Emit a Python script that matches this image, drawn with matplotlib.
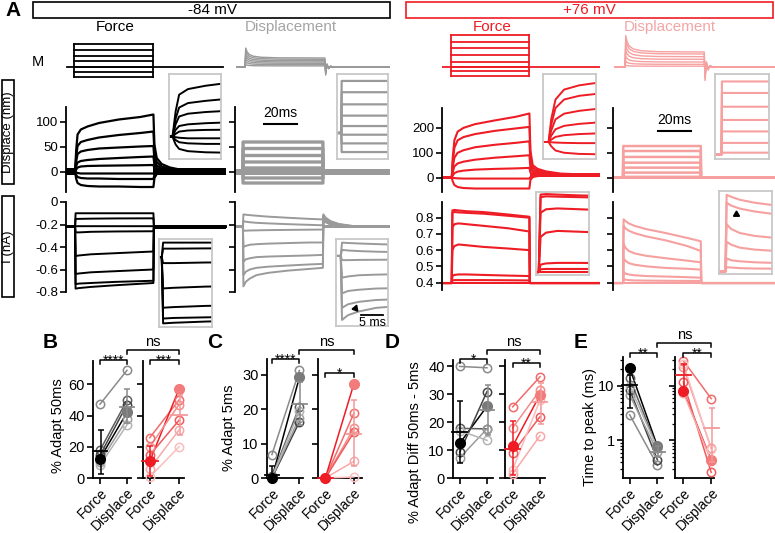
import numpy as np
import matplotlib
matplotlib.use('Agg')
import matplotlib.pyplot as plt
from matplotlib.lines import Line2D
from matplotlib.patches import Rectangle

plt.rcParams['font.family'] = ['Liberation Sans', 'DejaVu Sans']
plt.rcParams['axes.linewidth'] = 1.2

# ====================== DATA ======================
# ---- A: mechanical stimulus (M), arbitrary units ----
stim_force_levels_84 = [23, 17, 11, 6, 0, -5, -10]
stim_force_levels_76 = [32, 25, 19, 12, 5, 0, -4, -9]
stim_disp_levels_84 = [9, 7.7, 6.3, 5, 3.7, 2.4, 1.1]
stim_disp_levels_76 = [15, 13, 10.3, 7.7, 5, 2.7, 0.8]
stim_disp_on_t = [0, 0.4, 1.2, 2.5, 5, 10, 20]
stim_disp_on_shape = [0, 2.1, 1.7, 1.4, 1.2, 1.08, 1.02]
stim_disp_off_t = [0, 0.5, 1.3, 2.3, 3.5, 5.5, 9]
stim_disp_off_shape = [1.0, -0.9, 0.35, -0.2, 0.1, -0.03, 0]
# (start, on, off, end) in ms
stim_timing_force_84 = [0.4, 4.85, 52.7, 95]
stim_timing_disp_84 = [1.2, 6.1, 54.5, 94]
stim_timing_force_76 = [-0.6, 5.5, 52.9, 95.8]
stim_timing_disp_76 = [1.2, 7.3, 55.2, 98]

# ---- A: displacement traces (nm), force clamp, -84 mV ----
bd_t = [0, 5.5, 6.2, 7, 9, 13, 20, 32, 45, 53, 53.6, 55, 58, 63, 72, 97]
bd_traces = [
    [0, 0, 45, 75, 85, 91, 98, 105, 110, 115, 55, 28, 16, 9, 3, 0],
    [0, 0, 32, 52, 60, 64, 69, 74, 78, 81, 40, 20, 11, 6, 2, 0],
    [0, 0, 22, 36, 41, 44, 47, 49, 51, 52, 25, 13, 7, 4, 1, 0],
    [0, 0, 12, 19, 22, 24, 26, 28, 30, 31, 15, 8, 4, 2, 0, 0],
    [0, 0, 5, 9, 11, 12, 12.5, 13, 13.5, 14, 7, 4, 2, 1, 0, 0],
    [0, 0, -1, -2, -3, -3, -3, -3, -3, -3, -1, 0, 0, 0, 0, 0],
    [0, 0, -6, -10, -12, -13, -13, -14, -14, -14, -6, -2, -1, 0, 0, 0],
    [0, 0, -14, -22, -26, -28, -29, -29, -30, -30, -12, -4, -1, 0, 0, 0],
]
bd_noise = 7
# ---- displacement clamp, -84 mV ----
gd_t = [0, 4.8, 4.9, 53.3, 53.4, 94]
gd_levels = [60, 47, 33, 20, 8, -2, -12, -22]
gd_noise = 6
# ---- currents (nA), -84 mV ----
bc_t = [0, 5.5, 5.8, 8, 15, 30, 53, 53.3, 97]
bc_traces = [
    [-0.22, -0.22, -0.10, -0.10, -0.10, -0.10, -0.10, -0.22, -0.22],
    [-0.22, -0.22, -0.15, -0.15, -0.148, -0.146, -0.145, -0.22, -0.22],
    [-0.22, -0.22, -0.27, -0.27, -0.265, -0.262, -0.26, -0.22, -0.22],
    [-0.22, -0.22, -0.48, -0.475, -0.465, -0.455, -0.44, -0.22, -0.22],
    [-0.22, -0.22, -0.64, -0.635, -0.625, -0.615, -0.60, -0.22, -0.22],
    [-0.22, -0.22, -0.73, -0.725, -0.72, -0.71, -0.70, -0.22, -0.22],
    [-0.22, -0.22, -0.77, -0.765, -0.755, -0.74, -0.72, -0.22, -0.22],
    [-0.22, -0.22, -0.215, -0.215, -0.215, -0.215, -0.215, -0.22, -0.22],
]
bc_noise = 0.02
gc_t = [0, 4.8, 5.1, 6.5, 9, 13, 20, 32, 45, 53.3, 53.6, 55, 58, 63, 72, 94]
gc_traces = [
    [-0.22, -0.22, -0.11, -0.113, -0.117, -0.122, -0.13, -0.14, -0.15, -0.155, -0.11, -0.14, -0.17, -0.195, -0.215, -0.22],
    [-0.22, -0.22, -0.17, -0.175, -0.18, -0.185, -0.19, -0.197, -0.203, -0.207, -0.12, -0.15, -0.18, -0.2, -0.215, -0.22],
    [-0.22, -0.22, -0.255, -0.255, -0.253, -0.252, -0.25, -0.248, -0.246, -0.245, -0.13, -0.16, -0.185, -0.205, -0.218, -0.22],
    [-0.22, -0.22, -0.40, -0.39, -0.38, -0.375, -0.37, -0.365, -0.36, -0.36, -0.14, -0.165, -0.19, -0.207, -0.218, -0.22],
    [-0.22, -0.22, -0.53, -0.51, -0.50, -0.49, -0.485, -0.48, -0.475, -0.47, -0.15, -0.17, -0.195, -0.21, -0.219, -0.22],
    [-0.22, -0.22, -0.65, -0.62, -0.60, -0.585, -0.575, -0.565, -0.555, -0.55, -0.16, -0.175, -0.2, -0.212, -0.219, -0.22],
    [-0.22, -0.22, -0.75, -0.71, -0.68, -0.65, -0.63, -0.61, -0.595, -0.585, -0.17, -0.18, -0.2, -0.213, -0.22, -0.22],
]
gc_noise = 0.012
# ---- +76 mV displacement (nm) ----
rd_t = [0, 5.9, 6.5, 7.5, 9.5, 13, 20, 32, 45, 53, 53.6, 55, 58, 63, 72, 96]
rd_traces = [
    [0, 0, 80, 150, 185, 200, 215, 230, 245, 258, 110, 50, 35, 25, 16, 10],
    [0, 0, 60, 120, 150, 163, 175, 188, 198, 204, 85, 40, 28, 20, 14, 10],
    [0, 0, 40, 80, 100, 110, 122, 132, 140, 146, 60, 30, 22, 16, 12, 10],
    [0, 0, 22, 45, 57, 64, 72, 80, 86, 90, 40, 22, 17, 13, 11, 10],
    [0, 0, 8, 18, 24, 28, 32, 35, 37, 39, 20, 14, 12, 11, 10, 10],
    [0, 0, -1, -2, -3, -4, -4, -4, -4, -4, 2, 6, 8, 9, 10, 10],
    [0, 0, -15, -30, -38, -42, -44, -44, -44, -44, -10, 2, 6, 8, 9, 10],
]
rd_noise = 8
pd_t = [0, 6.1, 6.2, 53.1, 53.2, 98]
pd_levels = [127, 107, 83, 60, 40, 20, 3]
pd_noise = 5
# ---- +76 mV currents (nA) ----
rc_t = [0, 5.9, 6.3, 7.5, 10, 15, 25, 40, 53, 53.3, 96]
rc_traces = [
    [0.397, 0.397, 0.845, 0.848, 0.845, 0.84, 0.835, 0.82, 0.806, 0.397, 0.397],
    [0.397, 0.397, 0.83, 0.835, 0.833, 0.83, 0.825, 0.812, 0.80, 0.397, 0.397],
    [0.397, 0.397, 0.74, 0.76, 0.765, 0.76, 0.75, 0.735, 0.715, 0.397, 0.397],
    [0.397, 0.397, 0.60, 0.625, 0.635, 0.63, 0.62, 0.61, 0.60, 0.397, 0.397],
    [0.397, 0.397, 0.44, 0.447, 0.45, 0.45, 0.447, 0.443, 0.44, 0.397, 0.397],
    [0.397, 0.397, 0.413, 0.415, 0.415, 0.415, 0.415, 0.414, 0.413, 0.397, 0.397],
]
pc_t = [0, 6.1, 6.4, 7.5, 9.5, 13, 20, 32, 45, 53.1, 53.4, 98]
pc_traces = [
    [0.397, 0.397, 0.79, 0.78, 0.765, 0.75, 0.73, 0.705, 0.675, 0.655, 0.397, 0.397],
    [0.397, 0.397, 0.75, 0.735, 0.72, 0.705, 0.685, 0.66, 0.625, 0.595, 0.397, 0.397],
    [0.397, 0.397, 0.64, 0.615, 0.595, 0.58, 0.565, 0.55, 0.535, 0.525, 0.397, 0.397],
    [0.397, 0.397, 0.55, 0.535, 0.52, 0.51, 0.50, 0.49, 0.485, 0.48, 0.397, 0.397],
    [0.397, 0.397, 0.465, 0.455, 0.45, 0.445, 0.44, 0.437, 0.433, 0.43, 0.397, 0.397],
    [0.397, 0.397, 0.42, 0.418, 0.415, 0.413, 0.412, 0.411, 0.41, 0.41, 0.397, 0.397],
]

# ---- B-E: paired data (Force, Displace) ----
groups = ['Force', 'Displace']
B_force_84 = [47.3, 12.5, 17.8, 14.6, 10.3, 8.2]
B_disp_84 = [69, 42, 49.7, 47, 37.6, 34]
B_force_76 = [25.8, 10.7, 20, 14.6, 6, 0.6]
B_disp_76 = [50, 57, 47, 37, 30.8, 20]
B_stats_84 = dict(mean=[17.0, 45.8], lo=[2.8, 35.0], hi=[30.8, 57.0])
B_stats_76 = dict(mean=[10.6, 40.5], lo=[1.0, 27.5], hi=[20.4, 53.0])

C_force_84 = [6.8, 0.0, 0.5, 0.0, 0.3, 0.2]
C_disp_84 = [31.2, 29.2, 20.7, 16.3, 17.5, 19.5]
C_force_76 = [0, 0, 0, 0, 0, 0]
C_disp_76 = [18.7, 27.2, 14.4, 13.2, 4.8, 0.3]
C_stats_84 = dict(mean=[0.8, 21.5], lo=[0.0, 15.5], hi=[3.6, 27.8])
C_stats_76 = dict(mean=[0.0, 12.9], lo=[0.0, 3.5], hi=[0.3, 22.7])

D_force_84 = [40, 12.4, 17.8, 9.2, 7.2, 17]
D_disp_84 = [39.5, 25.7, 17.6, 31, 17.6, 13.5]
D_force_76 = [25.5, 11.4, 18, 9, 1.5, 3]
D_disp_76 = [36.3, 29.9, 31.5, 22, 15.2, 28]
D_stats_84 = dict(mean=[16.5, 24.3], lo=[5.5, 15.5], hi=[27.5, 33.2])
D_stats_76 = dict(mean=[10.5, 27.2], lo=[1.0, 19.5], hi=[20.5, 34.0])

E_force_84 = [2.95, 21, 13.8, 8.45, 6.8, 10]
E_disp_84 = [0.35, 0.78, 0.72, 0.44, 0.62, 0.72]
E_force_76 = [28.7, 8, 22, 11.6, 7.5, 25]
E_disp_76 = [5.8, 0.44, 0.72, 0.26, 0.42, 0.7]
E_stats_84 = dict(mean=[10.2, 0.62], lo=[3.9, 0.5], hi=[15.5, 0.78])
E_stats_76 = dict(mean=[15.5, 1.7], lo=[7.0, 0.4], hi=[25.0, 4.0])

# ====================== STYLE ======================
BLACK = '#000000'
GRAY = '#9a9a9a'
RED = '#ee1c24'
PINK = '#f6a0a0'
INSET_EDGE = '#c8c8c8'
cols_84 = ['#8a8a8a', '#000000', '#5e5e5e', '#444444', '#9c9c9c', '#b4b4b4']
fill_84 = ['#000000', '#7a7a7a']
mcol_84 = ['#000000', '#8a8a8a']
cols_76 = ['#f36b6b', RED, '#f58c8c', '#f15a5a', '#f8a8a8', '#fbbdbd']
fill_76 = [RED, '#f27b7b']
mcol_76 = [RED, '#f29a9a']

W, H = 775, 533
fig = plt.figure(figsize=(W / 100, H / 100), dpi=100)


def pax(x0, y0, x1, y1):
    return fig.add_axes([x0 / W, 1 - y1 / H, (x1 - x0) / W, (y1 - y0) / H])


def ftext(x, y, s, **kw):
    return fig.text(x / W, 1 - y / H, s, **kw)


def frect(x0, y0, x1, y1, color, lw=1.2):
    fig.add_artist(Rectangle((x0 / W, 1 - y1 / H), (x1 - x0) / W, (y1 - y0) / H,
                             transform=fig.transFigure, fill=False, ec=color, lw=lw))


def style_trace(ax, xlim, ylim, yticks, labels):
    ax.set_xlim(*xlim)
    ax.set_ylim(*ylim)
    for s in ['top', 'right', 'bottom']:
        ax.spines[s].set_visible(False)
    ax.spines['left'].set_linewidth(1.3)
    ax.set_xticks([])
    ax.set_yticks(yticks)
    ax.set_yticklabels(labels if labels is not None else [])
    ax.tick_params(axis='y', direction='out', length=4, width=1.2, labelsize=9.5, pad=1.5)
    ax.patch.set_alpha(0)


def inset(box, xlim, ylim):
    ax = pax(*box)
    ax.set_xlim(*xlim)
    ax.set_ylim(*ylim)
    ax.set_xticks([])
    ax.set_yticks([])
    for s in ax.spines.values():
        s.set_color(INSET_EDGE)
        s.set_linewidth(1.3)
    return ax


# ====================== TOP HEADERS ======================
ftext(13, 11, 'A', fontsize=15, fontweight='bold', ha='center', va='center')
frect(33, 2, 390, 18, BLACK)
frect(406, 2, 773, 18, RED)
ftext(212, 10.5, '-84 mV', fontsize=11, ha='center', va='center')
ftext(589, 10.5, '+76 mV', fontsize=11, ha='center', va='center', color=RED)
ftext(115, 27, 'Force', fontsize=11, ha='center', va='center')
ftext(291, 27, 'Displacement', fontsize=11, ha='center', va='center', color='#a4a4a4')
ftext(492, 27, 'Force', fontsize=11, ha='center', va='center', color=RED)
ftext(670, 27, 'Displacement', fontsize=11, ha='center', va='center', color='#f4a5a5')
ftext(38, 62, 'M', fontsize=10.5, ha='center', va='center')

# ====================== STIMULI ======================
def force_stim(ax, levels, timing, color, lw):
    st, on, off, en = timing
    ax.plot([st, en], [0, 0], color=color, lw=lw)
    for L in levels:
        ax.plot([on, off], [L, L], color=color, lw=lw)
    for tt in (on, off):
        ax.plot([tt, tt], [min(levels), max(levels)], color=color, lw=lw)


def disp_stim(ax, levels, timing, color, lw):
    st, on, off, en = timing
    t = np.concatenate([[st], on + np.array(stim_disp_on_t), off + np.array(stim_disp_off_t), [en]])
    for L in levels:
        v = np.concatenate([[0], L * np.array(stim_disp_on_shape), L * np.array(stim_disp_off_shape), [0]])
        ax.plot(t, v, color=color, lw=lw)


for box, xl, kind, levels, timing, color, lw in [
        ((66, 33, 226, 87), 97, 'f', stim_force_levels_84, stim_timing_force_84, BLACK, 1.3),
        ((235, 33, 390, 87), 94, 'd', stim_disp_levels_84, stim_timing_disp_84, GRAY, 1.0),
        ((442, 33, 600, 87), 95.8, 'f', stim_force_levels_76, stim_timing_force_76, RED, 1.3),
        ((613, 33, 775, 87), 98, 'd', stim_disp_levels_76, stim_timing_disp_76, PINK, 1.0)]:
    ax = pax(*box)
    ax.set_xlim(0, xl)
    ax.set_ylim(-20, 34)
    ax.axis('off')
    if kind == 'f':
        force_stim(ax, levels, timing, color, lw)
    else:
        disp_stim(ax, levels, timing, color, lw)

# ====================== ROW LABELS ======================
frect(1.5, 80, 14, 184, BLACK)
ftext(8, 132, 'Displace (nm)', fontsize=9.5, rotation=90, ha='center', va='center')
frect(1.5, 196, 14, 297, BLACK)
ftext(8, 246.5, 'I (nA)', fontsize=9.5, rotation=90, ha='center', va='center')

# ====================== TRACES ======================
disp_ticks_84 = [0, 50, 100]
cur_ticks_84 = [0, -0.2, -0.4, -0.6, -0.8]
disp_ticks_76 = [0, 100, 200]
cur_ticks_76 = [0.4, 0.5, 0.6, 0.7, 0.8]

# -84 force: displacement
ax = pax(66, 107, 226, 192)
style_trace(ax, (0, 97), (-40, 130), disp_ticks_84, ['0', '50', '100'])
ax.fill_between([bd_t[0], bd_t[1]], -bd_noise, bd_noise, color=BLACK, lw=0)
ax.fill_between([bd_t[9], bd_t[-1]], -bd_noise, bd_noise, color=BLACK, lw=0)
for v in bd_traces:
    ax.plot(bd_t, v, color=BLACK, lw=1.6)
axi = inset((169, 74, 221, 159), (bd_t[1] - 0.8, bd_t[1] + 11), (-40, 112))
for v in bd_traces:
    axi.plot(bd_t, v, color=BLACK, lw=1.4)

# -84 force: current
ax = pax(66, 202, 226, 292)
style_trace(ax, (0, 97), (-0.8, 0), cur_ticks_84, ['0', '-0.2', '-0.4', '-0.6', '-0.8'])
ax.fill_between([bc_t[7], bc_t[-1]], -0.22 - bc_noise, -0.22 + bc_noise, color=BLACK, lw=0)
ax.fill_between([bc_t[0], bc_t[1]], -0.22 - bc_noise * 0.6, -0.22 + bc_noise * 0.6, color=BLACK, lw=0)
for v in bc_traces:
    ax.plot(bc_t, v, color=BLACK, lw=1.4, clip_on=False)
axi = inset((159, 239, 212, 327), (bc_t[1] - 0.6, bc_t[1] + 11), (-0.80, -0.07))
for v in bc_traces[:-1]:
    axi.plot(bc_t, v, color=BLACK, lw=1.4)

# -84 displacement clamp: displacement
ax = pax(235, 107, 390, 192)
style_trace(ax, (0, 94), (-40, 130), disp_ticks_84, None)
ax.fill_between([0, 94], -gd_noise, gd_noise, color=GRAY, lw=0)
for L in gd_levels:
    ax.plot(gd_t, [0, 0, L, L, 0, 0], color=GRAY, lw=2.4)
ax.plot([17.6, 37.6], [96, 96], color=BLACK, lw=1.5)
ax.text(27.6, 103, '20ms', fontsize=10, ha='center', va='bottom')
axi = inset((337, 74, 388, 159), (gd_t[1] - 1, gd_t[1] + 11), (-30, 68))
for L in gd_levels:
    axi.plot(gd_t, [0, 0, L, L, 0, 0], color=GRAY, lw=1.6)

# -84 displacement clamp: current
ax = pax(235, 202, 390, 292)
style_trace(ax, (0, 94), (-0.8, 0), cur_ticks_84, None)
ax.fill_between([0, gc_t[1]], -0.22 - gc_noise, -0.22 + gc_noise, color=GRAY, lw=0)
ax.fill_between([gc_t[9], 94], -0.22 - gc_noise, -0.22 + gc_noise, color=GRAY, lw=0)
for v in gc_traces:
    ax.plot(gc_t, v, color=GRAY, lw=1.4)
axi = inset((336, 239, 388, 326), (gc_t[1] - 1.1, gc_t[1] + 11), (-0.80, -0.08))
for v in gc_traces:
    axi.plot(gc_t, v, color=GRAY, lw=1.4)
axi.plot([gc_t[1] + 3.4], [-0.655], marker=(3, 0, 100), color=BLACK, ms=5)
axi.plot([gc_t[1] + 4.8, gc_t[1] + 9.8], [-0.705, -0.705], color=BLACK, lw=1.3, clip_on=False)
axi.text(gc_t[1] + 7.3, -0.725, '5 ms', fontsize=9, ha='center', va='top')

# +76 force: displacement
ax = pax(442, 108, 600, 192)
style_trace(ax, (0, 95.8), (-58, 280), disp_ticks_76, ['0', '100', '200'])
ax.fill_between([rd_t[10], rd_t[-1]], 10 - rd_noise, 10 + rd_noise, color=RED, lw=0)
for v in rd_traces:
    ax.plot(rd_t, v, color=RED, lw=1.5)
axi = inset((543, 74, 596, 159), (rd_t[1] - 1.3, rd_t[1] + 11), (-60, 240))
for v in rd_traces:
    axi.plot(rd_t, v, color=RED, lw=1.4)

# +76 force: current
ax = pax(442, 202, 600, 290)
style_trace(ax, (0, 95.8), (0.354, 0.897), cur_ticks_76, ['0.4', '0.5', '0.6', '0.7', '0.8'])
ax.fill_between([0, 95.8], 0.397 - 0.008, 0.397 + 0.008, color=RED, lw=0)
for v in rc_traces:
    ax.plot(rc_t, v, color=RED, lw=1.5)
axi = inset((536, 192, 589, 275), (rc_t[1] - 0.6, rc_t[1] + 11), (0.38, 0.86))
for v in rc_traces:
    axi.plot(rc_t, v, color=RED, lw=1.5)
axi.plot([rc_t[0], rc_t[-1]], [0.397, 0.397], color=RED, lw=1.5)

# +76 displacement clamp: displacement
ax = pax(613, 108, 775, 192)
style_trace(ax, (0, 98), (-58, 280), disp_ticks_76, None)
ax.fill_between([0, 98], -pd_noise, pd_noise, color=PINK, lw=0)
for L in pd_levels:
    ax.plot(pd_t, [0, 0, L, L, 0, 0], color=PINK, lw=1.8)
ax.plot([27.3, 47.3], [187, 187], color=BLACK, lw=1.5)
ax.text(37.3, 204, '20ms', fontsize=10, ha='center', va='bottom')
axi = inset((715, 74, 769, 159), (pd_t[1] - 1.5, pd_t[1] + 11), (-8, 140))
for L in pd_levels:
    axi.plot(pd_t, [0, 0, L, L, 0, 0], color=PINK, lw=1.5)

# +76 displacement clamp: current
ax = pax(613, 202, 775, 290)
style_trace(ax, (0, 98), (0.354, 0.897), cur_ticks_76, None)
ax.fill_between([0, 98], 0.397 - 0.008, 0.397 + 0.008, color=PINK, lw=0)
for v in pc_traces:
    ax.plot(pc_t, v, color=PINK, lw=1.5)
axi = inset((719, 191, 772, 274), (pc_t[1] - 1.5, pc_t[1] + 11), (0.385, 0.81))
for v in pc_traces:
    axi.plot(pc_t, v, color=PINK, lw=1.5)
axi.plot([pc_t[1] + 2.6], [0.69], marker=(3, 0, 0), color=BLACK, ms=5)

# ====================== B-E ======================
def paired_ax(box, xlim, ylim, yticks, ylabels, log=False):
    ax = pax(*box)
    if log:
        ax.set_yscale('log')
    ax.set_xlim(*xlim)
    ax.set_ylim(*ylim)
    for s in ['top', 'right']:
        ax.spines[s].set_visible(False)
    ax.spines['left'].set_linewidth(1.3)
    ax.spines['bottom'].set_linewidth(1.3)
    ax.set_xticks([0, 1])
    ax.set_xticklabels(groups, rotation=45, ha='right', rotation_mode='anchor', fontsize=10)
    ax.set_yticks(yticks)
    ax.set_yticklabels(ylabels if ylabels is not None else [])
    ax.tick_params(direction='out', length=4, width=1.2, labelsize=10.5, pad=2)
    ax.tick_params(axis='x', pad=1.5, labelsize=10)
    ax.tick_params(which='minor', length=2, width=0.9)
    if log:
        ax.yaxis.set_minor_formatter(plt.NullFormatter())
    ax.patch.set_alpha(0)
    return ax


def paired(ax, force, disp, cols, fidx, fcol, stats, mcol):
    for i in range(len(force)):
        c = cols[i]
        lc = fcol[0] if i == fidx else c
        ax.plot([0, 1], [force[i], disp[i]], '-', color=lc, lw=1.1, clip_on=False, zorder=3)
        if i == fidx:
            ax.plot([0], [force[i]], 'o', ms=7, color=fcol[0], clip_on=False, zorder=5)
            ax.plot([1], [disp[i]], 'o', ms=7, color=fcol[1], clip_on=False, zorder=5)
        else:
            ax.plot([0, 1], [force[i], disp[i]], 'o', ms=6, mfc='none', mec=c, mew=1.1,
                    clip_on=False, zorder=4)
    for j in range(2):
        m, lo, hi = stats['mean'][j], stats['lo'][j], stats['hi'][j]
        ax.errorbar([j + 0.02], [m], yerr=[[m - lo], [hi - m]], fmt='none', ecolor=mcol[j],
                    elinewidth=1.1, capsize=2.5, capthick=1.1, zorder=6, clip_on=False)
        ax.plot([j - 0.27, j + 0.27], [m, m], color=mcol[j], lw=1.3, zorder=6, clip_on=False)


panels = [
    ('B', 50, (58, 426), '% Adapt 50ms',
     (93, 361, 131, 478), (-0.26, 1.15), (143, 361, 184, 478), (-0.23, 1.17),
     (0, 75), [0, 20, 40, 60], ['0', '20', '40', '60'], False,
     (B_force_84, B_disp_84, B_stats_84), (B_force_76, B_disp_76, B_stats_76),
     ('****', 360), ('ns', 350), ('***', 360)),
    ('C', 215, (228.5, 428), '% Adapt 5ms',
     (267, 359, 303, 478), (-0.18, 1.13), (318, 359, 362, 478), (-0.26, 1.29),
     (0, 34.5), [0, 10, 20, 30], ['0', '10', '20', '30'], False,
     (C_force_84, C_disp_84, C_stats_84), (C_force_76, C_disp_76, C_stats_76),
     ('****', 359), ('ns', 350), ('*', 373)),
    ('D', 392, (415, 442), '% Adapt Diff 50ms - 5ms',
     (453, 360, 493, 478), (-0.245, 1.22), (505, 360, 545, 478), (-0.28, 1.18),
     (0, 42.3), [0, 10, 20, 30, 40], ['0', '10', '20', '30', '40'], False,
     (D_force_84, D_disp_84, D_stats_84), (D_force_76, D_disp_76, D_stats_76),
     ('*', 359), ('ns', 350), ('**', 363)),
    ('E', 581, (590, 427), 'Time to peak (ms)',
     (623, 357, 663, 478), (-0.24, 1.2), (675, 357, 714, 478), (-0.3, 1.1),
     (0.206, 33.5), [1, 10], ['1', '10'], True,
     (E_force_84, E_disp_84, E_stats_84), (E_force_76, E_disp_76, E_stats_76),
     ('**', 353), ('ns', 343), ('**', 353)),
]


def sig_bar(ax1, x1, ax2, x2, ypx, label):
    X1 = ax1.transData.transform((x1, ax1.get_ylim()[0]))[0]
    X2 = ax2.transData.transform((x2, ax2.get_ylim()[0]))[0]
    yf = 1 - ypx / H
    tk = 3.5 / H
    fig.add_artist(Line2D([X1 / W, X1 / W, X2 / W, X2 / W], [yf - tk, yf, yf, yf - tk],
                          transform=fig.transFigure, color=BLACK, lw=1.1))
    if label == 'ns':
        ftext((X1 + X2) / 2, ypx - 4, label, fontsize=10.5, ha='center', va='baseline')
    else:
        ftext((X1 + X2) / 2, ypx + 4.5, label, fontsize=10, ha='center', va='baseline')


for (letter, lx, (ylx, yly), ylab, boxL, xlimL, boxR, xlimR, ylim, yt, ytl, log,
     d84, d76, s1, s2, s3) in panels:
    ftext(lx, 342, letter, fontsize=15, fontweight='bold', ha='center', va='center')
    ftext(ylx, yly, ylab, fontsize=10.5, rotation=90, ha='center', va='center')
    axL = paired_ax(boxL, xlimL, ylim, yt, ytl, log)
    axR = paired_ax(boxR, xlimR, ylim, yt, None, log)
    paired(axL, d84[0], d84[1], cols_84, 1, fill_84, d84[2], mcol_84)
    paired(axR, d76[0], d76[1], cols_76, 1, fill_76, d76[2], mcol_76)
    sig_bar(axL, 0, axL, 1, s1[1], s1[0])
    sig_bar(axL, 1, axR, 1, s2[1], s2[0])
    sig_bar(axR, 0, axR, 1, s3[1], s3[0])

fig.savefig('out.png', dpi=100)
